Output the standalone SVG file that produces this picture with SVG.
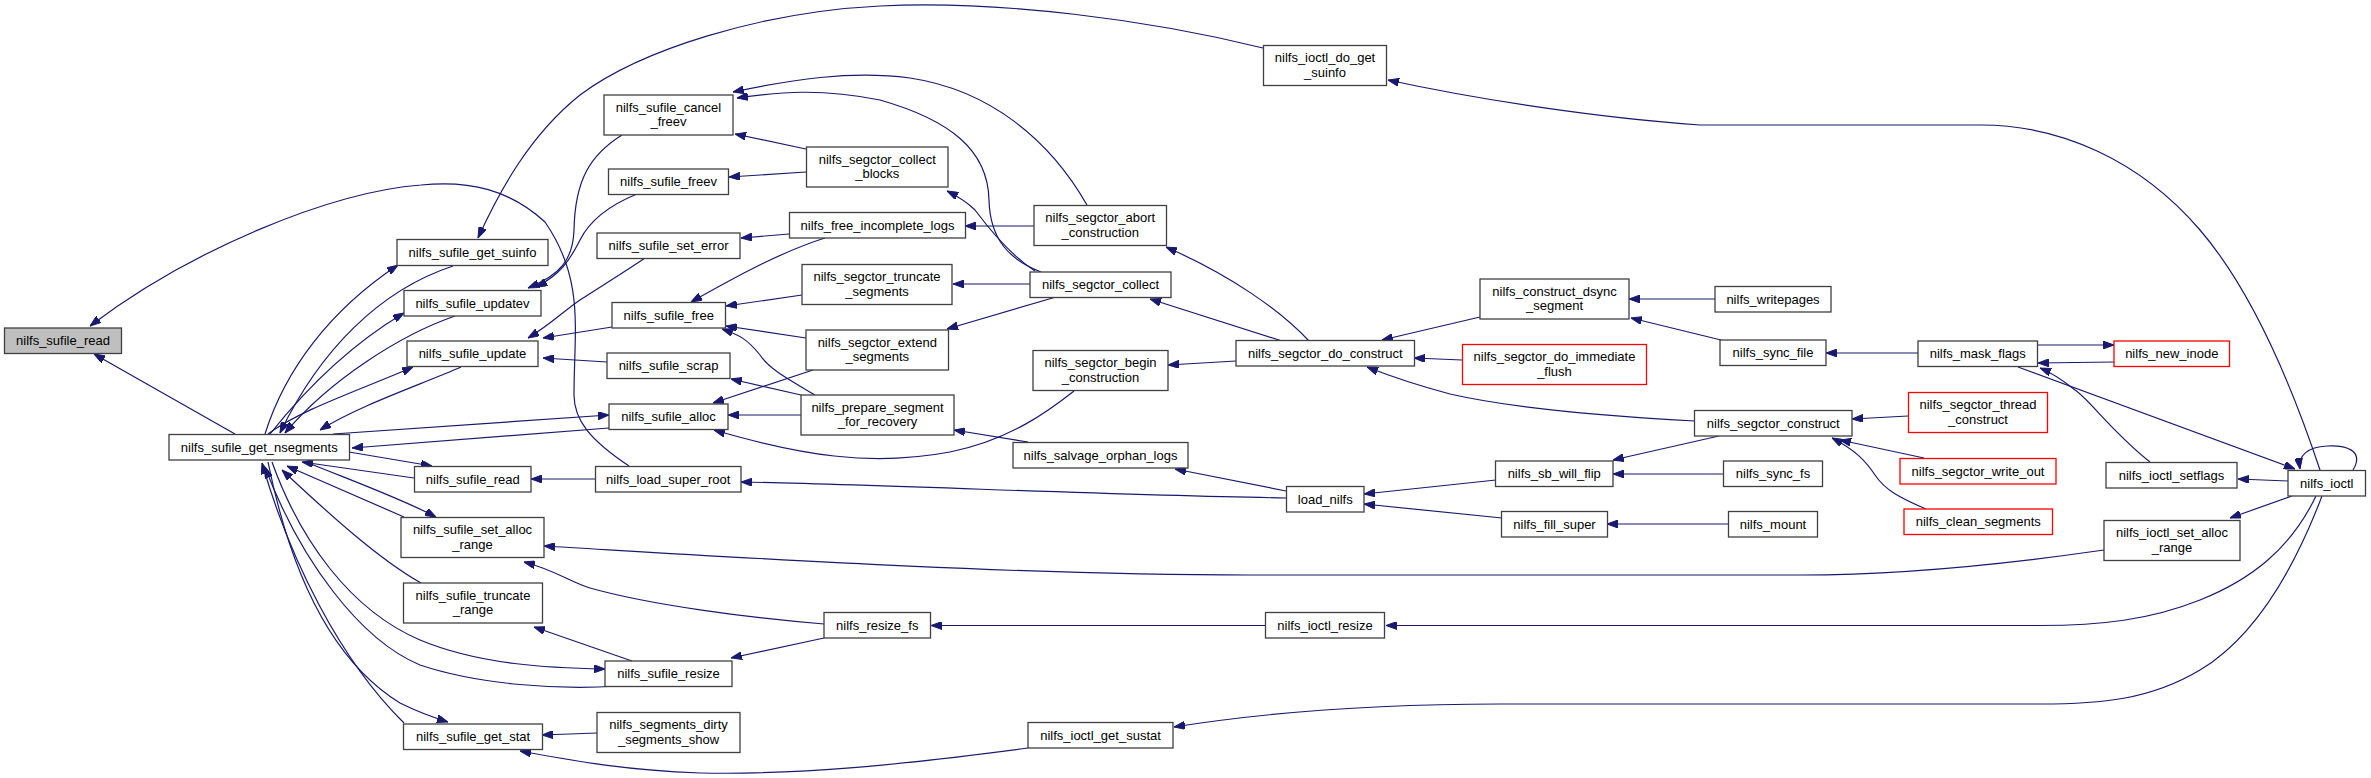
<svg xmlns="http://www.w3.org/2000/svg" width="2371" height="778" viewBox="0 0 2371 778">
<style>
.node rect{fill:#ffffff;stroke:#404040;stroke-width:1.3}
.root rect{fill:#bfbfbf}
.red rect{stroke:#ff0000}
.node text{font-family:"Liberation Sans",Arial,sans-serif;font-size:13px;text-anchor:middle;fill:#000000}
.edges path{fill:none;stroke:#191970;stroke-width:1.2;marker-end:url(#ah)}
</style>
<defs>
<marker id="ah" viewBox="0 0 11 8" refX="11" refY="4" markerWidth="11" markerHeight="8" orient="auto" markerUnits="userSpaceOnUse"><path d="M0,0 L11,4 L0,8 z" fill="#191970" stroke="#191970" stroke-width="1"/></marker>
</defs>
<rect x="0" y="0" width="2371" height="778" fill="#ffffff"/>
<g class="edges" id="edges">
<path d="M235,434 L94,354"/>
<path d="M629,466 C590,440 574,420 574,395 C574,330 585,280 545,222 C510,190 470,180 421,185 C330,192 190,250 90,326"/>
<path d="M265,434 C285,370 330,310 398,265"/>
<path d="M453,266 C380,290 320,350 280,433"/>
<path d="M270,434 C305,390 350,345 404,313"/>
<path d="M455,316 C400,335 330,380 285,433"/>
<path d="M268,434 C300,410 360,390 413,367"/>
<path d="M461,367 C420,385 360,405 320,430"/>
<path d="M333,434 L609,415"/>
<path d="M609,428 L352,448"/>
<path d="M349,452 L432,466"/>
<path d="M414,478 L302,462"/>
<path d="M595,479 L531,479"/>
<path d="M306,462 C350,480 400,498 436,517"/>
<path d="M404,517 L287,466"/>
<path d="M421,583 C380,560 330,515 282,470"/>
<path d="M272,462 C300,540 350,610 420,640 C480,665 550,668 605,669"/>
<path d="M618,686 C560,690 480,685 420,665 C360,640 300,560 265,467"/>
<path d="M268,462 C290,570 330,660 400,703 C420,713 435,718 448,722"/>
<path d="M404,723 C340,660 290,560 262,463"/>
<path d="M597,733 L542,735"/>
<path d="M1028,748 C900,765 800,775 700,773 C620,770 570,760 520,751"/>
<path d="M2104,550 C2000,565 1900,575 1800,575 L1250,575 C1000,575 700,555 544,546"/>
<path d="M824,624 C750,618 650,605 590,588 C570,582 555,570 524,562"/>
<path d="M632,661 L534,627"/>
<path d="M824,638 L731,658"/>
<path d="M1266,625.5 L931,625.5"/>
<path d="M2316,496 C2290,550 2250,580 2200,600 C2150,620 2100,625.5 2040,625.5 L1386,625.5"/>
<path d="M2322,496 C2290,580 2250,640 2200,670 C2150,700 2100,704 2040,704 L1500,704 C1350,704 1250,715 1174,727"/>
<path d="M2292,496 L2230,518"/>
<path d="M2288,481 L2238,479"/>
<path d="M2353,470 C2365,450 2345,445 2327,446 C2308,447 2298,455 2300,469"/>
<path d="M2320,470 C2300,410 2260,300 2200,230 C2140,160 2060,125 1981,125 L1700,125 C1600,118 1480,100 1388,80"/>
<path d="M2018,367 L2295,469"/>
<path d="M2150,462 C2110,430 2090,400 2075,390 C2060,378 2050,372 2040,368"/>
<path d="M2038,345 L2114,345"/>
<path d="M2114,362 L2038,363"/>
<path d="M1918,353 L1826,353"/>
<path d="M1721,340 L1631,318"/>
<path d="M1715,299 L1629,299"/>
<path d="M1480,317 L1382,340"/>
<path d="M1462,360 L1414,358"/>
<path d="M1695,421 C1620,417 1520,410 1450,394 C1420,386 1395,378 1367,367"/>
<path d="M1309,341 C1280,310 1230,275 1166,247"/>
<path d="M1282,341 L1150,299"/>
<path d="M1236,361 L1168,365"/>
<path d="M1041,272 C1010,260 990,240 989,200 C988,150 950,120 880,100 C820,88 780,92 737,98"/>
<path d="M1087,205 C1050,140 990,90 910,78 C850,70 790,80 733,92"/>
<path d="M1035,271 C1010,255 990,230 975,210 C965,200 955,195 947,191"/>
<path d="M806,149 L735,134"/>
<path d="M806,172 L729,177"/>
<path d="M789,234 L741,238"/>
<path d="M1034,226 L965,226"/>
<path d="M825,238 C780,252 730,280 691,302"/>
<path d="M802,295 L726,306"/>
<path d="M806,338 L726,326"/>
<path d="M1030,284 L953,284"/>
<path d="M1056,297 L947,329"/>
<path d="M801,415 L728,415"/>
<path d="M813,370 L713,403"/>
<path d="M1074,391 C1050,410 1010,440 950,452 C870,467 800,455 714,430"/>
<path d="M801,395 L731,379"/>
<path d="M815,395 C790,380 770,370 760,355 C748,340 740,335 722,329"/>
<path d="M1028,442 L954,430"/>
<path d="M1286,491 L1175,469"/>
<path d="M1286,498 C1100,495 900,485 741,482"/>
<path d="M1496,480 L1364,494"/>
<path d="M1502,518 L1364,504"/>
<path d="M1719,436 L1613,460"/>
<path d="M1724,474 L1613,474"/>
<path d="M1729,524 L1607,524"/>
<path d="M1908,416 L1852,419"/>
<path d="M1924,458 L1840,440"/>
<path d="M1926,509 C1900,498 1885,490 1875,475 C1865,460 1855,450 1832,438"/>
<path d="M622,135 C590,155 575,180 574,230 C573,260 560,275 528,288"/>
<path d="M637,194 C610,205 590,220 580,240 C570,260 560,275 536,287"/>
<path d="M645,258 C620,275 595,290 580,300 C565,310 550,325 528,338"/>
<path d="M612,327 L543,338"/>
<path d="M607,362 L543,358"/>
<path d="M1263,48 C1150,20 1000,0 880,6 C760,12 640,50 580,95 C530,135 500,190 478,238"/>
</g>
<g id="n1" class="node root"><rect x="4.5" y="328" width="117" height="25.5"/><text x="63" y="345">nilfs_sufile_read</text></g>
<g id="n2" class="node"><rect x="169" y="434.5" width="180.5" height="25.5"/><text x="259.25" y="451.5">nilfs_sufile_get_nsegments</text></g>
<g id="n3" class="node"><rect x="397" y="239.5" width="151" height="26"/><text x="472.5" y="256.5">nilfs_sufile_get_suinfo</text></g>
<g id="n4" class="node"><rect x="404" y="290.5" width="137" height="25.5"/><text x="472.5" y="307.5">nilfs_sufile_updatev</text></g>
<g id="n5" class="node"><rect x="407" y="341" width="131" height="25.5"/><text x="472.5" y="358">nilfs_sufile_update</text></g>
<g id="n6" class="node"><rect x="609" y="404" width="119" height="25.5"/><text x="668.5" y="421">nilfs_sufile_alloc</text></g>
<g id="n7" class="node"><rect x="414.5" y="466.5" width="116.5" height="25.5"/><text x="472.75" y="483.5">nilfs_sufile_read</text></g>
<g id="n8" class="node"><rect x="401" y="517.5" width="143" height="40"/><text x="472.5" y="534">nilfs_sufile_set_alloc</text><text x="472.5" y="548.5">_range</text></g>
<g id="n9" class="node"><rect x="403.5" y="583" width="139" height="40"/><text x="473" y="599.5">nilfs_sufile_truncate</text><text x="473" y="614">_range</text></g>
<g id="n10" class="node"><rect x="605" y="661" width="127" height="25.5"/><text x="668.5" y="678">nilfs_sufile_resize</text></g>
<g id="n11" class="node"><rect x="403.5" y="724" width="139" height="25.5"/><text x="473" y="741">nilfs_sufile_get_stat</text></g>
<g id="n12" class="node"><rect x="604" y="95" width="129" height="40"/><text x="668.5" y="111.5">nilfs_sufile_cancel</text><text x="668.5" y="126">_freev</text></g>
<g id="n13" class="node"><rect x="608.5" y="169" width="120" height="25.5"/><text x="668.5" y="186">nilfs_sufile_freev</text></g>
<g id="n14" class="node"><rect x="597" y="233" width="143" height="25.5"/><text x="668.5" y="250">nilfs_sufile_set_error</text></g>
<g id="n15" class="node"><rect x="612" y="302.5" width="113.5" height="25.5"/><text x="668.75" y="319.5">nilfs_sufile_free</text></g>
<g id="n16" class="node"><rect x="607" y="353" width="123" height="25.5"/><text x="668.5" y="370">nilfs_sufile_scrap</text></g>
<g id="n17" class="node"><rect x="595.5" y="466.5" width="145.5" height="25.5"/><text x="668.25" y="483.5">nilfs_load_super_root</text></g>
<g id="n18" class="node"><rect x="597" y="712.5" width="143" height="40"/><text x="668.5" y="729">nilfs_segments_dirty</text><text x="668.5" y="743.5">_segments_show</text></g>
<g id="n19" class="node"><rect x="806.5" y="147" width="141.5" height="40"/><text x="877.25" y="163.5">nilfs_segctor_collect</text><text x="877.25" y="178">_blocks</text></g>
<g id="n20" class="node"><rect x="789.5" y="212.5" width="176" height="25.5"/><text x="877.5" y="229.5">nilfs_free_incomplete_logs</text></g>
<g id="n21" class="node"><rect x="802" y="264.5" width="150" height="40"/><text x="877" y="281">nilfs_segctor_truncate</text><text x="877" y="295.5">_segments</text></g>
<g id="n22" class="node"><rect x="806" y="330" width="142.5" height="40"/><text x="877.25" y="346.5">nilfs_segctor_extend</text><text x="877.25" y="361">_segments</text></g>
<g id="n23" class="node"><rect x="801" y="395" width="153" height="40"/><text x="877.5" y="411.5">nilfs_prepare_segment</text><text x="877.5" y="426">_for_recovery</text></g>
<g id="n24" class="node"><rect x="824" y="612.5" width="106.5" height="25.5"/><text x="877.25" y="629.5">nilfs_resize_fs</text></g>
<g id="n25" class="node"><rect x="1034" y="205.5" width="132.5" height="40"/><text x="1100.25" y="222">nilfs_segctor_abort</text><text x="1100.25" y="236.5">_construction</text></g>
<g id="n26" class="node"><rect x="1030" y="272" width="141" height="25.5"/><text x="1100.5" y="289">nilfs_segctor_collect</text></g>
<g id="n27" class="node"><rect x="1033" y="350.5" width="135" height="40"/><text x="1100.5" y="367">nilfs_segctor_begin</text><text x="1100.5" y="381.5">_construction</text></g>
<g id="n28" class="node"><rect x="1013" y="442.5" width="175" height="25.5"/><text x="1100.5" y="459.5">nilfs_salvage_orphan_logs</text></g>
<g id="n29" class="node"><rect x="1028" y="722.5" width="145" height="25.5"/><text x="1100.5" y="739.5">nilfs_ioctl_get_sustat</text></g>
<g id="n30" class="node"><rect x="1263.5" y="45.5" width="123" height="40"/><text x="1325" y="62">nilfs_ioctl_do_get</text><text x="1325" y="76.5">_suinfo</text></g>
<g id="n31" class="node"><rect x="1236" y="340.5" width="178.5" height="25.5"/><text x="1325.25" y="357.5">nilfs_segctor_do_construct</text></g>
<g id="n32" class="node"><rect x="1286.5" y="486.5" width="77.5" height="25.5"/><text x="1325.25" y="503.5">load_nilfs</text></g>
<g id="n33" class="node"><rect x="1265.5" y="612.5" width="119" height="25.5"/><text x="1325" y="629.5">nilfs_ioctl_resize</text></g>
<g id="n34" class="node"><rect x="1480" y="279" width="149" height="40"/><text x="1554.5" y="295.5">nilfs_construct_dsync</text><text x="1554.5" y="310">_segment</text></g>
<g id="n35" class="node red"><rect x="1462.5" y="344.5" width="184" height="40"/><text x="1554.5" y="361">nilfs_segctor_do_immediate</text><text x="1554.5" y="375.5">_flush</text></g>
<g id="n36" class="node"><rect x="1495.5" y="461" width="117.5" height="25.5"/><text x="1554.25" y="478">nilfs_sb_will_flip</text></g>
<g id="n37" class="node"><rect x="1501.5" y="511.5" width="106" height="25.5"/><text x="1554.5" y="528.5">nilfs_fill_super</text></g>
<g id="n38" class="node"><rect x="1694.5" y="410.5" width="157.5" height="25.5"/><text x="1773.25" y="427.5">nilfs_segctor_construct</text></g>
<g id="n39" class="node"><rect x="1715" y="286.5" width="116" height="25.5"/><text x="1773" y="303.5">nilfs_writepages</text></g>
<g id="n40" class="node"><rect x="1720" y="340" width="106" height="25.5"/><text x="1773" y="357">nilfs_sync_file</text></g>
<g id="n41" class="node"><rect x="1723.5" y="461" width="99" height="25.5"/><text x="1773" y="478">nilfs_sync_fs</text></g>
<g id="n42" class="node"><rect x="1728.5" y="511.5" width="89" height="25.5"/><text x="1773" y="528.5">nilfs_mount</text></g>
<g id="n43" class="node"><rect x="1918" y="341" width="119.5" height="25.5"/><text x="1977.75" y="358">nilfs_mask_flags</text></g>
<g id="n44" class="node red"><rect x="1908.5" y="392.5" width="139" height="40"/><text x="1978" y="409">nilfs_segctor_thread</text><text x="1978" y="423.5">_construct</text></g>
<g id="n45" class="node red"><rect x="1900" y="458.5" width="156" height="25.5"/><text x="1978" y="475.5">nilfs_segctor_write_out</text></g>
<g id="n46" class="node red"><rect x="1904" y="509" width="148.5" height="25.5"/><text x="1978.25" y="526">nilfs_clean_segments</text></g>
<g id="n47" class="node red"><rect x="2114" y="341" width="115.5" height="25.5"/><text x="2171.75" y="358">nilfs_new_inode</text></g>
<g id="n48" class="node"><rect x="2106" y="462.5" width="131" height="25.5"/><text x="2171.5" y="479.5">nilfs_ioctl_setflags</text></g>
<g id="n49" class="node"><rect x="2104" y="520.5" width="136" height="40"/><text x="2172" y="537">nilfs_ioctl_set_alloc</text><text x="2172" y="551.5">_range</text></g>
<g id="n50" class="node"><rect x="2288" y="470.5" width="77.5" height="25.5"/><text x="2326.75" y="487.5">nilfs_ioctl</text></g>
</svg>
